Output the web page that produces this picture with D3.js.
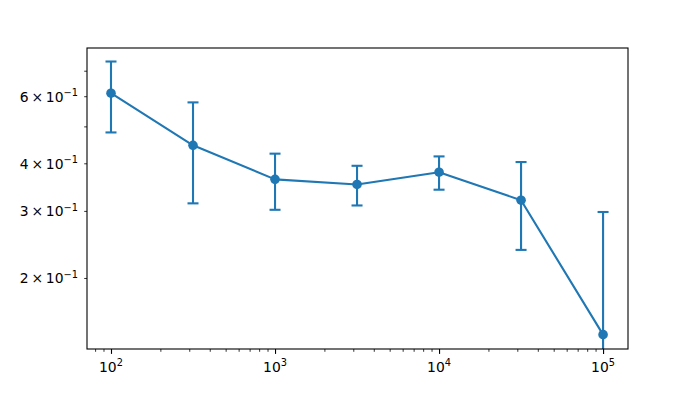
<!DOCTYPE html>
<html>
<head>
<meta charset="utf-8">
<script src="https://cdn.jsdelivr.net/npm/d3@7"></script>
<style>
  body { margin: 0; background: #ffffff; }
  svg { display: block; }
  text { font-family: "DejaVu Sans", sans-serif; fill: #000000; }
</style>
</head>
<body>
<div id="chart"></div>
<script>
// Measured values
const xValues = [100, 316.23, 1000, 3162.3, 10000, 31623, 100000];
const yValues = [0.611, 0.446, 0.363, 0.352, 0.379, 0.320, 0.142];
const yErrors = [0.129, 0.132, 0.061, 0.042, 0.038, 0.083, 0.156];
const xMajorTicks = [1e2, 1e3, 1e4, 1e5];
const yLabelTicks = [
  { value: 0.2, mant: "2" },
  { value: 0.3, mant: "3" },
  { value: 0.4, mant: "4" },
  { value: 0.6, mant: "6" },
];
const yMinorTicks = [0.2, 0.3, 0.4, 0.5, 0.6, 0.7];

const width = 698, height = 399;
const margin = { top: 48, right: 70, bottom: 50, left: 87 };
const color = "#1f77b4";

const svg = d3.select("#chart").append("svg")
  .attr("width", width)
  .attr("height", height);

const x = d3.scaleLog()
  .domain([71.4, 141900])
  .range([margin.left, width - margin.right]);

const y = d3.scaleLog()
  .domain([0.1302, 0.803])
  .range([height - margin.bottom, margin.top]);

// x minor ticks: 2..9 of each decade, in view
const xMinorTicks = [];
for (let e = 1; e <= 5; e++) {
  for (let m = 2; m <= 9; m++) {
    const v = m * Math.pow(10, e);
    if (v >= x.domain()[0] && v <= x.domain()[1]) xMinorTicks.push(v);
  }
}

const bottom = height - margin.bottom;

// x axis minor
svg.append("g")
  .attr("transform", `translate(0,${bottom})`)
  .call(d3.axisBottom(x).tickValues(xMinorTicks).tickSize(2.8).tickFormat(""))
  .call(g => g.select(".domain").remove())
  .call(g => g.selectAll("line").attr("stroke", "#000").attr("stroke-width", 0.8));

// x axis major
svg.append("g")
  .attr("transform", `translate(0,${bottom})`)
  .call(d3.axisBottom(x).tickValues(xMajorTicks).tickSize(4.9).tickFormat(""))
  .call(g => g.select(".domain").remove())
  .call(g => g.selectAll("line").attr("stroke", "#000").attr("stroke-width", 1.1));

// x labels 10^n
const xl = svg.append("g").selectAll("text")
  .data(xMajorTicks)
  .join("text")
  .attr("x", d => x(d))
  .attr("y", bottom + 22.5)
  .attr("text-anchor", "middle")
  .attr("font-size", 13.9);
xl.append("tspan").text("10");
xl.append("tspan")
  .attr("dy", -5.5)
  .attr("font-size", 9.8)
  .text(d => Math.round(Math.log10(d)));

// y axis minor ticks
svg.append("g")
  .attr("transform", `translate(${margin.left},0)`)
  .call(d3.axisLeft(y).tickValues(yMinorTicks).tickSize(2.8).tickFormat(""))
  .call(g => g.select(".domain").remove())
  .call(g => g.selectAll("line").attr("stroke", "#000").attr("stroke-width", 0.8));

// y labels  m × 10^-1
const yl = svg.append("g").selectAll("text")
  .data(yLabelTicks)
  .join("text")
  .attr("x", margin.left - 9)
  .attr("y", d => y(d.value) + 5.5)
  .attr("text-anchor", "end")
  .attr("font-size", 13.9);
yl.append("tspan").text(d => d.mant + "\u2009\u00d7\u200910");
yl.append("tspan")
  .attr("dy", -5.5)
  .attr("font-size", 9.8)
  .text("\u22121");

// clip
svg.append("clipPath").attr("id", "clip")
  .append("rect")
  .attr("x", margin.left)
  .attr("y", margin.top)
  .attr("width", width - margin.left - margin.right)
  .attr("height", height - margin.top - margin.bottom);

const plot = svg.append("g").attr("clip-path", "url(#clip)");

const points = xValues.map((xv, i) => ({
  x: xv, y: yValues[i], err: yErrors[i],
  lo: Math.max(yValues[i] - yErrors[i], 1e-3),
  hi: yValues[i] + yErrors[i],
}));

// error bars
const eb = plot.append("g")
  .attr("stroke", color)
  .attr("stroke-width", 2.1)
  .selectAll("g")
  .data(points)
  .join("g");
eb.append("line")
  .attr("x1", d => x(d.x)).attr("x2", d => x(d.x))
  .attr("y1", d => y(d.lo)).attr("y2", d => y(d.hi));
eb.append("line")
  .attr("x1", d => x(d.x) - 5.5).attr("x2", d => x(d.x) + 5.5)
  .attr("y1", d => y(d.hi)).attr("y2", d => y(d.hi));
eb.filter(d => d.y - d.err > 0)
  .append("line")
  .attr("x1", d => x(d.x) - 5.5).attr("x2", d => x(d.x) + 5.5)
  .attr("y1", d => y(d.lo)).attr("y2", d => y(d.lo));

// line
plot.append("path")
  .datum(points)
  .attr("fill", "none")
  .attr("stroke", color)
  .attr("stroke-width", 2.1)
  .attr("stroke-linejoin", "round")
  .attr("d", d3.line().x(d => x(d.x)).y(d => y(d.y)));

// markers
plot.append("g")
  .selectAll("circle")
  .data(points)
  .join("circle")
  .attr("cx", d => x(d.x))
  .attr("cy", d => y(d.y))
  .attr("r", 4.8)
  .attr("fill", color);

// frame
svg.append("rect")
  .attr("x", margin.left)
  .attr("y", margin.top)
  .attr("width", width - margin.left - margin.right)
  .attr("height", height - margin.top - margin.bottom)
  .attr("fill", "none")
  .attr("stroke", "#000")
  .attr("stroke-width", 1.1);
</script>
</body>
</html>
